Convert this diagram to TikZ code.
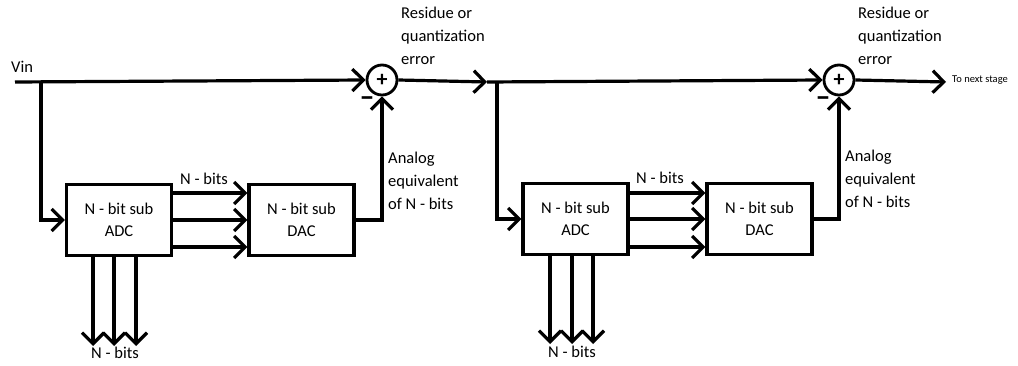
\documentclass[tikz,border=0pt]{standalone}
\usepackage{fontspec}
\setmainfont{Carlito}
\usetikzlibrary{arrows.meta}
\begin{document}
\begin{tikzpicture}[x=1pt,y=-1pt,
  wire/.style={line width=3.2pt},
  arr/.style={wire,-{Straight Barb[length=11pt,width=22pt]}},
  block/.style={draw,line width=3.2pt,minimum width=105,minimum height=71,align=center,inner sep=0,
    font=\fontsize{16.5}{22}\selectfont},
  sumnode/.style={draw,circle,line width=2.8pt,minimum size=30,inner sep=0,
    font=\fontsize{22}{22}\selectfont\bfseries},
  lbl/.style={font=\fontsize{16.5}{23}\selectfont,align=left,inner sep=0},
  minus/.style={font=\fontsize{30}{30}\selectfont\bfseries,inner sep=0}]
\useasboundingbox (0,0) rectangle (1018,366);
% stage 1
\node[block] (adc1) at (119,220) {N - bit sub\\ADC};
\node[block] (dac1) at (301.5,220) {N - bit sub\\DAC};
\node[sumnode] (s1) at (382,80) {+};
\coordinate (vin) at (15,82);
\coordinate (b1) at (41,82);
\node[lbl,anchor=base west] (vinl) at (11,73) {Vin};
\draw[arr] (vin) -- (s1.west);
\draw[arr] (b1) |- (adc1.west);
\draw[arr] ([yshift=27pt]adc1.east) -- ([yshift=27pt]dac1.west);
\draw[arr] (adc1.east) -- (dac1.west);
\draw[arr] ([yshift=-27pt]adc1.east) -- ([yshift=-27pt]dac1.west);
\draw[arr] (dac1.east) -| (s1.south);
\coordinate (o1a) at (93,346);
\coordinate (o1b) at (114,346);
\coordinate (o1c) at (136,346);
\draw[arr] (o1a |- adc1.south) -- (o1a);
\draw[arr] (o1b |- adc1.south) -- (o1b);
\draw[arr] (o1c |- adc1.south) -- (o1c);
\node[lbl,anchor=base] (nb1) at (115,358) {N - bits};
\node[lbl,anchor=base] (nt1) at (204,185) {N - bits};
\node[minus] (m1) at (367,102) {–};
\node[lbl,anchor=base west] (res1) at (401,65) {Residue or\\quantization\\error};
\node[lbl,anchor=base west] (an1) at (388,210) {Analog\\equivalent\\of N - bits};
% stage 2
\node[block] (adc2) at (575.5,219) {N - bit sub\\ADC};
\node[block] (dac2) at (759.5,219) {N - bit sub\\DAC};
\node[sumnode] (s2) at (839,80) {+};
\coordinate (mid) at (487,82);
\coordinate (b2) at (497,82);
\draw[arr] (s1.east) -- (mid);
\draw[arr] (mid) -- (s2.west);
\draw[arr] (b2) |- (adc2.west);
\draw[arr] ([yshift=26pt]adc2.east) -- ([yshift=26pt]dac2.west);
\draw[arr] (adc2.east) -- (dac2.west);
\draw[arr] ([yshift=-28pt]adc2.east) -- ([yshift=-28pt]dac2.west);
\draw[arr] (dac2.east) -| (s2.south);
\coordinate (o2a) at (550,344);
\coordinate (o2b) at (572,344);
\coordinate (o2c) at (593,344);
\draw[arr] (o2a |- adc2.south) -- (o2a);
\draw[arr] (o2b |- adc2.south) -- (o2b);
\draw[arr] (o2c |- adc2.south) -- (o2c);
\node[lbl,anchor=base] (nb2) at (572,357) {N - bits};
\node[lbl,anchor=base] (nt2) at (660,184) {N - bits};
\node[minus] (m2) at (823,102) {–};
\node[lbl,anchor=base west] (res2) at (858,65) {Residue or\\quantization\\error};
\node[lbl,anchor=base west] (an2) at (845,208) {Analog\\equivalent\\of N - bits};
\coordinate (out) at (946,82);
\draw[arr] (s2.east) -- (out);
\node[font=\fontsize{10.5}{12}\selectfont,anchor=west,inner sep=0] (next) at (952,80) {To next stage};
\end{tikzpicture}
\end{document}
